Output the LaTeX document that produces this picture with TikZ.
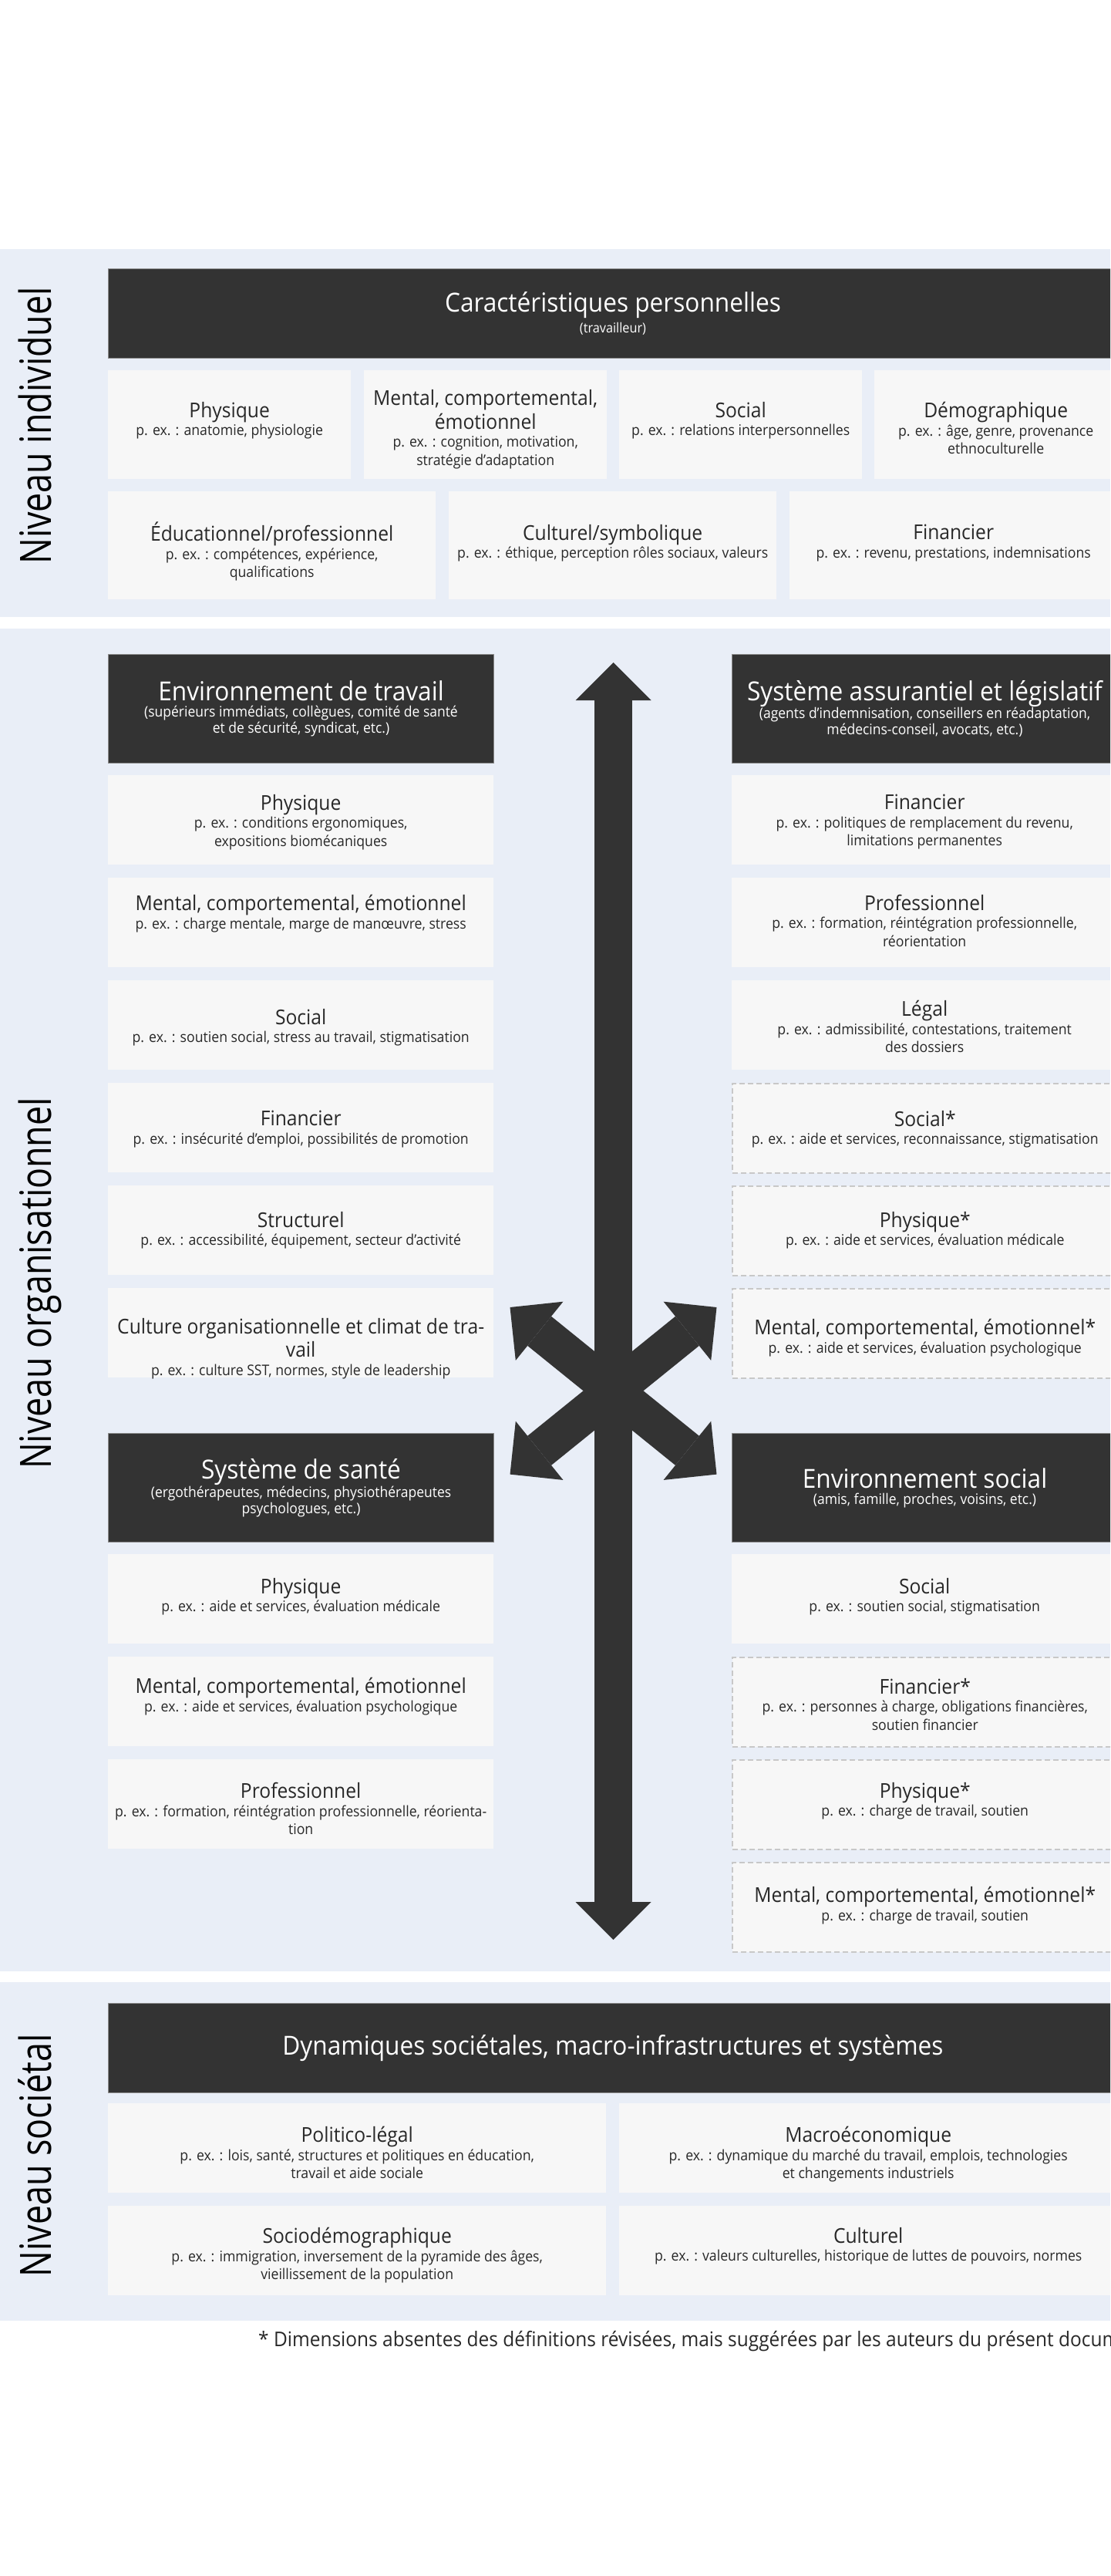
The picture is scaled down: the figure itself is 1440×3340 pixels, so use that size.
\documentclass[tikz,border=0pt]{standalone}
\usepackage{fontspec}
\setmainfont[FakeStretch=0.93]{Open Sans}
\newfontfamily\lvlfam[FakeStretch=0.8]{Open Sans}
\usepackage{xcolor}
\usepackage{tikz}
\usetikzlibrary{positioning,arrows.meta}

\definecolor{bandbg}{RGB}{233,238,247}
\definecolor{boxbg}{RGB}{247,247,247}
\definecolor{darkbg}{RGB}{51,51,51}
\definecolor{txtgray}{RGB}{40,40,40}
\definecolor{dashgray}{RGB}{200,200,200}

\newcommand{\ttlfnt}{\fontsize{26.5}{31}\selectfont}
\newcommand{\exfnt}{\fontsize{19}{23.5}\selectfont}
\newcommand{\dkttlfnt}{\fontsize{34}{38}\selectfont}
\newcommand{\dksubfnt}{\fontsize{18.8}{21}\selectfont}
\newcommand{\lvlfnt}{\lvlfam\fontsize{56}{60}\selectfont}
\newcommand{\notefnt}{\fontsize{26.3}{30}\selectfont}

\begin{document}
\begin{tikzpicture}[x=1pt, y=-1pt,
  lightbox/.style={fill=boxbg, draw=none, anchor=north west, inner sep=0pt, minimum width=500pt, minimum height=116pt},
  dashbox/.style={lightbox, draw=dashgray, line width=1.5pt, dash pattern=on 7pt off 4pt},
  darkbox/.style={fill=darkbg, draw=black!45, line width=1pt, anchor=north west, inner sep=0pt, text=white, align=center, font=\dksubfnt, minimum width=500pt, minimum height=141pt},
  boxtxt/.style={align=center, text=txtgray, font=\exfnt, inner sep=0pt},
  lvltxt/.style={rotate=90, anchor=base, font=\lvlfnt, text=black, inner sep=0pt},
  bigarrow/.style={darkbg, line width=49pt, {Triangle[length=49pt,width=98pt,line width=0pt]}-{Triangle[length=49pt,width=98pt,line width=0pt]}}]

\useasboundingbox (0,0) rectangle (1440,3340);
\clip (0,0) rectangle (1440,3340);

% bands
\fill[bandbg] (0,323) rectangle (1440,800);
\fill[bandbg] (0,815) rectangle (1440,2556);
\fill[bandbg] (0,2570) rectangle (1440,3009);

\node[lvltxt] (lvind) at (66,552) {Niveau individuel};
\node[lvltxt] (lvorg) at (66,1664) {Niveau organisationnel};
\node[lvltxt] (lvsoc) at (66,2795) {Niveau sociétal};

% niveau individuel
\node[darkbox, minimum width=1309pt, minimum height=116pt] (pers) at (140,348) {{\dkttlfnt Caractéristiques personnelles}\\[4pt]{\fontsize{17.5}{20}\selectfont (travailleur)}};

\node[lightbox, minimum width=315pt, minimum height=141pt] (ip1) at (140,480) {};
\node[lightbox, minimum width=315pt, minimum height=141pt] (ip2) at (472,480) {};
\node[lightbox, minimum width=315pt, minimum height=141pt] (ip3) at (803,480) {};
\node[lightbox, minimum width=315pt, minimum height=141pt] (ip4) at (1134,480) {};
\node[boxtxt, below=41pt of ip1.north] (ip1t) {{\ttlfnt Physique}\\p. ex. : anatomie, physiologie};
\node[boxtxt, below=25pt of ip2.north] (ip2t) {{\ttlfnt Mental, comportemental,}\\[3pt]{\ttlfnt émotionnel}\\p. ex. : cognition, motivation,\\stratégie d’adaptation};
\node[boxtxt, below=41pt of ip3.north] (ip3t) {{\ttlfnt Social}\\p. ex. : relations interpersonnelles};
\node[boxtxt, below=41pt of ip4.north] (ip4t) {{\ttlfnt Démographique}\\p. ex. : âge, genre, provenance\\ethnoculturelle};

\node[lightbox, minimum width=425pt, minimum height=140pt] (iq1) at (140,637) {};
\node[lightbox, minimum width=425pt, minimum height=140pt] (iq2) at (582,637) {};
\node[lightbox, minimum width=425pt, minimum height=140pt] (iq3) at (1024,637) {};
\node[boxtxt, below=40pt of iq1.north] (iq1t) {{\ttlfnt Éducationnel/professionnel}\\p. ex. : compétences, expérience,\\qualifications};
\node[boxtxt, below=43pt of iq2.north] (iq2t) {{\ttlfnt Culturel/symbolique}\\p. ex. : éthique, perception rôles sociaux, valeurs};
\node[boxtxt, below=43pt of iq3.north] (iq3t) {{\ttlfnt Financier}\\p. ex. : revenu, prestations, indemnisations};

% niveau organisationnel
\node[darkbox] (work) at (140,848) {{\dkttlfnt Environnement de travail}\\(supérieurs immédiats, collègues, comité de santé\\et de sécurité, syndicat, etc.)};
\node[darkbox] (insur) at (949,848) {{\dkttlfnt Système assurantiel et législatif}\\(agents d’indemnisation, conseillers en réadaptation,\\médecins-conseil, avocats, etc.)};
\node[darkbox] (health) at (140,1858) {{\dkttlfnt Système de santé}\\(ergothérapeutes, médecins, physiothérapeutes\\psychologues, etc.)};
\node[darkbox] (socenv) at (949,1858) {{\dkttlfnt Environnement social}\\(amis, famille, proches, voisins, etc.)};

\node[lightbox] (w1) at (140,1005) {};
\node[lightbox] (w2) at (140,1138) {};
\node[lightbox] (w3) at (140,1271) {};
\node[lightbox] (w4) at (140,1404) {};
\node[lightbox] (w5) at (140,1537) {};
\node[lightbox] (w6) at (140,1670) {};
\node[boxtxt, below=25pt of w1.north] (w1t) {{\ttlfnt Physique}\\p. ex. : conditions ergonomiques,\\expositions biomécaniques};
\node[boxtxt, below=22pt of w2.north] (w2t) {{\ttlfnt Mental, comportemental, émotionnel}\\p. ex. : charge mentale, marge de manœuvre, stress};
\node[boxtxt, below=37pt of w3.north] (w3t) {{\ttlfnt Social}\\p. ex. : soutien social, stress au travail, stigmatisation};
\node[boxtxt, below=36pt of w4.north] (w4t) {{\ttlfnt Financier}\\p. ex. : insécurité d’emploi, possibilités de promotion};
\node[boxtxt, below=34pt of w5.north] (w5t) {{\ttlfnt Structurel}\\p. ex. : accessibilité, équipement, secteur d’activité};
\node[boxtxt, below=39pt of w6.north] (w6t) {{\ttlfnt Culture organisationnelle et climat de tra-}\\[3pt]{\ttlfnt vail}\\p. ex. : culture SST, normes, style de leadership};

\node[lightbox] (h1) at (140,2015) {};
\node[lightbox] (h2) at (140,2148) {};
\node[lightbox] (h3) at (140,2281) {};
\node[boxtxt, below=31pt of h1.north] (h1t) {{\ttlfnt Physique}\\p. ex. : aide et services, évaluation médicale};
\node[boxtxt, below=27pt of h2.north] (h2t) {{\ttlfnt Mental, comportemental, émotionnel}\\p. ex. : aide et services, évaluation psychologique};
\node[boxtxt, below=30pt of h3.north] (h3t) {{\ttlfnt Professionnel}\\p. ex. : formation, réintégration professionnelle, réorienta-\\tion};

\node[lightbox] (a1) at (949,1005) {};
\node[lightbox] (a2) at (949,1138) {};
\node[lightbox] (a3) at (949,1271) {};
\node[dashbox] (a4) at (949,1404) {};
\node[dashbox] (a5) at (949,1537) {};
\node[dashbox] (a6) at (949,1670) {};
\node[boxtxt, below=25pt of a1.north] (a1t) {{\ttlfnt Financier}\\p. ex. : politiques de remplacement du revenu,\\limitations permanentes};
\node[boxtxt, below=22pt of a2.north] (a2t) {{\ttlfnt Professionnel}\\p. ex. : formation, réintégration professionnelle,\\réorientation};
\node[boxtxt, below=26pt of a3.north] (a3t) {{\ttlfnt Légal}\\p. ex. : admissibilité, contestations, traitement\\des dossiers};
\node[boxtxt, below=36pt of a4.north] (a4t) {{\ttlfnt Social*}\\p. ex. : aide et services, reconnaissance, stigmatisation};
\node[boxtxt, below=34pt of a5.north] (a5t) {{\ttlfnt Physique*}\\p. ex. : aide et services, évaluation médicale};
\node[boxtxt, below=40pt of a6.north] (a6t) {{\ttlfnt Mental, comportemental, émotionnel*}\\p. ex. : aide et services, évaluation psychologique};

\node[lightbox] (s1) at (949,2015) {};
\node[dashbox] (s2) at (949,2148) {};
\node[dashbox] (s3) at (949,2281) {};
\node[dashbox] (s4) at (949,2414) {};
\node[boxtxt, below=31pt of s1.north] (s1t) {{\ttlfnt Social}\\p. ex. : soutien social, stigmatisation};
\node[boxtxt, below=28pt of s2.north] (s2t) {{\ttlfnt Financier*}\\p. ex. : personnes à charge, obligations financières,\\soutien financier};
\node[boxtxt, below=30pt of s3.north] (s3t) {{\ttlfnt Physique*}\\p. ex. : charge de travail, soutien};
\node[boxtxt, below=32pt of s4.north] (s4t) {{\ttlfnt Mental, comportemental, émotionnel*}\\p. ex. : charge de travail, soutien};

% fleches
\coordinate (vtop) at (795.5,859);
\coordinate (vbot) at (795.5,2515);
\coordinate (dul) at (661.5,1695);
\coordinate (ddr) at (929.5,1911.6);
\coordinate (dur) at (929.5,1695);
\coordinate (ddl) at (661.5,1911.6);
\draw[bigarrow] (vtop) -- (vbot);
\draw[bigarrow] (dul) -- (ddr);
\draw[bigarrow] (dur) -- (ddl);

% niveau societal
\node[darkbox, minimum width=1309pt, minimum height=116pt] (macro) at (140,2597) {{\dkttlfnt Dynamiques sociétales, macro-infrastructures et systèmes}};

\node[lightbox, minimum width=646pt] (m1) at (140,2727) {};
\node[lightbox, minimum width=646pt] (m2) at (803,2727) {};
\node[lightbox, minimum width=646pt] (m3) at (140,2860) {};
\node[lightbox, minimum width=646pt] (m4) at (803,2860) {};
\node[boxtxt, below=30pt of m1.north] (m1t) {{\ttlfnt Politico-légal}\\p. ex. : lois, santé, structures et politiques en éducation,\\travail et aide sociale};
\node[boxtxt, below=30pt of m2.north] (m2t) {{\ttlfnt Macroéconomique}\\p. ex. : dynamique du marché du travail, emplois, technologies\\et changements industriels};
\node[boxtxt, below=28pt of m3.north] (m3t) {{\ttlfnt Sociodémographique}\\p. ex. : immigration, inversement de la pyramide des âges,\\vieillissement de la population};
\node[boxtxt, below=28pt of m4.north] (m4t) {{\ttlfnt Culturel}\\p. ex. : valeurs culturelles, historique de luttes de pouvoirs, normes};

\node[anchor=base west, inner sep=0pt, font=\notefnt, text=txtgray] (fnote) at (335,3042) {* Dimensions absentes des définitions révisées, mais suggérées par les auteurs du présent document.};

\end{tikzpicture}
\end{document}
